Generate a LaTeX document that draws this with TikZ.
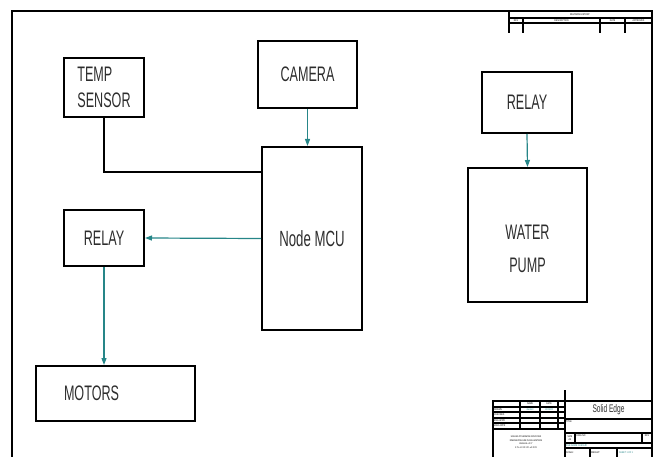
\documentclass[tikz,border=0pt]{standalone}
\usepackage{fontspec}
\setmainfont{Liberation Sans}[FakeStretch=0.6]
\newfontfamily\tbfont{Liberation Sans}[FakeStretch=0.8]
\usetikzlibrary{arrows.meta,calc}
\definecolor{wire}{RGB}{38,134,136}
\definecolor{ink}{RGB}{45,45,45}

\begin{document}
\begin{tikzpicture}[x=1pt, y=-1pt,
  box/.style={draw, line width=2pt, inner sep=0pt, align=center,
              text=ink, font=\fontsize{21}{26}\selectfont},
  bus/.style={draw, line width=2pt},
  arr/.style={draw=wire, line width=1.2pt,
              -{Triangle[length=7pt,width=5pt,fill=wire]}},
  sheet/.style={line width=2.2pt},
  tbline/.style={line width=1.3pt},
  tb/.style={inner sep=0pt, font=\tbfont\fontsize{2.6}{3}\selectfont},
  tbw/.style={tb, text=wire}]
\useasboundingbox (0,0) rectangle (656,457);

% drawing sheet
\draw[sheet] (12,457) -- (12,11) -- (652,11) -- (652,457);

% blocks
\node[box, minimum width=80, minimum height=59, align=left] (temp) at (104,87.5) {TEMP\\SENSOR};
\node[box, minimum width=99, minimum height=67] (cam) at (307.5,74.5) {CAMERA};
\node[box, minimum width=100, minimum height=183, font=\fontsize{22}{26}\selectfont] (mcu) at (312,238.5) {Node MCU};
\node[box, minimum width=80, minimum height=56] (relayl) at (104,238) {RELAY};
\node[box, minimum width=159, minimum height=55, text width=103, align=left] (motors) at (115.5,393.5) {MOTORS};
\node[box, minimum width=90, minimum height=61] (relayr) at (527,102.5) {RELAY};
\node[box, minimum width=119, minimum height=134] (pump) at (527.5,235) {};
\node[inner sep=0pt, align=center, text=ink, font=\fontsize{21}{33}\selectfont] (pumptxt) at ($(pump.center)+(0,14)$) {WATER\\PUMP};

% connections
\draw[bus] (temp.south) |- ($(mcu.north west)+(0,26)$);
\draw[arr] (cam.south) -- (cam.south |- mcu.north);
\draw[arr] (mcu.west) -- (relayl.east);
\draw[arr] (relayl.south) -- (relayl.south |- motors.north);
\draw[arr] (relayr.south) -- (pump.north);

% revision history
\draw[tbline] (509,11) -- (509,33);
\draw[tbline] (509,18) -- (652,18) (509,23) -- (652,23);
\draw[tbline] (523,18) -- (523,33) (600,18) -- (600,33) (625,18) -- (625,33);
\node[tb] (rh) at (580,14.5) {REVISION HISTORY};
\node[tb] (rhrev) at (516,20.5) {REV};
\node[tb] (rhdesc) at (561.5,20.5) {DESCRIPTION};
\node[tb] (rhdate) at (612.5,20.5) {DATE};
\node[tb] (rhappr) at (638.5,20.5) {APPROVED};

% title block
\draw[tbline] (493,457) -- (493,401) -- (652,401);
\foreach \y in {407,412,418,423,429}
  \draw[tbline] (493,\y) -- (565,\y);
\foreach \x in {520,540,558}
  \draw[tbline] (\x,401) -- (\x,429);
\draw[tbline] (565,390) -- (565,457);
\foreach \y in {419,433,443,448}
  \draw[tbline] (565,\y) -- (652,\y);
\draw[tbline] (575,433) -- (575,443) (642,433) -- (642,443);
\draw[tbline] (590,448) -- (590,457) (617,448) -- (617,457);
\node[tb] (tbname) at (530,404) {NAME};
\node[tb] (tbdate) at (549,404) {DATE};
\node[tb, anchor=west] (tbdrawn) at (494,409.5) {DRAWN};
\node[tbw] (tbdrawnn) at (530,409.5) {student};
\node[tbw] (tbdrawnd) at (549,409.5) {12/04/20};
\node[tb, anchor=west] (tbchk) at (494,415) {CHECKED};
\node[tb, anchor=west] (tbeng) at (494,420.5) {ENG APPR};
\node[tb, anchor=west] (tbmgr) at (494,426) {MGR APPR};
\node[tb, align=center, font=\tbfont\fontsize{2.4}{3.6}\selectfont] (tbnote) at (526,442) {UNLESS OTHERWISE SPECIFIED\\DIMENSIONS ARE IN MILLIMETERS\\ANGLES ±X.X°\\2 PL ±X.XX 3 PL ±X.XXX};
\node[inner sep=0pt, text=ink, font=\fontsize{11}{12}\selectfont] (tbse) at (608.5,410) {Solid Edge};
\node[tb, anchor=north west] (tbtitle) at (566,420.5) {TITLE};
\node[tb, align=center] (tbsize) at (570,438) {SIZE\\A4};
\node[tb, anchor=north west] (tbdwg) at (576.5,434.5) {DWG NO};
\node[tb] (tbrev) at (647,436) {REV};
\node[tbw, anchor=west] (tbfile) at (566,445.5) {FILE NAME: Draft1.dft};
\node[tb, anchor=west] (tbscale) at (566,452.5) {SCALE:};
\node[tb, anchor=west] (tbweight) at (591,452.5) {WEIGHT:};
\node[tbw, anchor=west] (tbsheet) at (619,452.5) {SHEET 1 OF 1};
\end{tikzpicture}
\end{document}
